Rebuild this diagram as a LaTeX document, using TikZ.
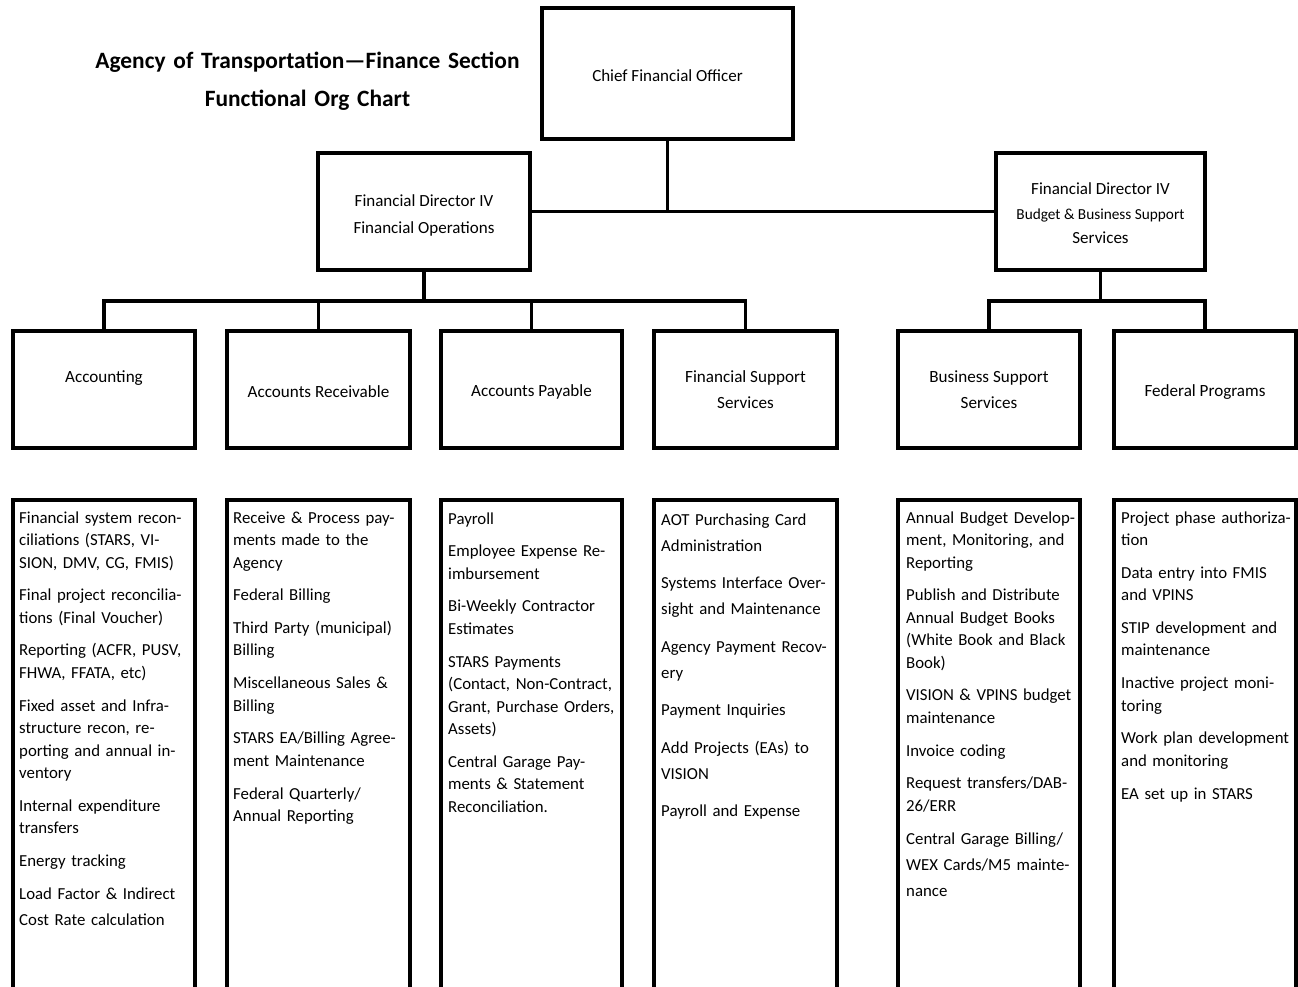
\documentclass[tikz,border=0pt]{standalone}
\usepackage{fontspec}
\setmainfont{Carlito}
\newcommand\itemgap{\\[10.2pt]}
\newcommand\lift[1]{\rule{0pt}{#1}}
\begin{document}
\begin{tikzpicture}[x=1pt,y=-1pt,
  box/.style={draw, line width=3.5pt, rectangle, inner sep=0pt, align=center, font=\fontsize{17.1}{26}\selectfont},
  listbox/.style={draw, line width=3.5pt, rectangle, inner sep=0pt, minimum width=182pt, minimum height=510pt},
  wire/.style={line width=3.5pt},
  listtext/.style={anchor=base west, inner sep=0pt, text width=185pt, align=left, font=\fontsize{16.8}{22.5}\selectfont},
]
\useasboundingbox (0,0) rectangle (1298,987);
\clip (0,0) rectangle (1298,987);

% title
\node[anchor=base, text width=560pt, align=center, inner sep=0pt, font=\bfseries\fontsize{23.4}{38}\selectfont] (title) at (307.5,69) {Agency of Transportation—Finance Section\\Functional Org Chart};

% top levels
\node[box, minimum width=251pt, minimum height=131pt, font=\fontsize{17}{26}\selectfont] (cfo) at (667.5,73.5) {\lift{16pt}Chief Financial Officer};
\node[box, minimum width=212pt, minimum height=117pt, font=\fontsize{17}{27}\selectfont] (fdops) at (424,211.5) {\lift{20pt}Financial Director IV\\Financial Operations};
\node[box, minimum width=209pt, minimum height=117pt, font=\fontsize{17}{24.5}\selectfont] (fdbud) at (1100.5,211.5) {\lift{16pt}Financial Director IV\\{\fontsize{15.3}{24.5}\selectfont Budget \& Business Support}\\Services};

% level 3
\node[box, minimum width=182pt, minimum height=117pt] (acct) at (104,389.5) {Accounting\\\mbox{}};
\node[box, minimum width=183pt, minimum height=117pt] (ar) at (318.5,389.5) {\lift{16.3pt}Accounts Receivable};
\node[box, minimum width=181pt, minimum height=117pt] (ap) at (531.5,389.5) {\lift{16.3pt}Accounts Payable};
\node[box, minimum width=183pt, minimum height=117pt] (fss) at (745.5,389.5) {Financial Support\\Services};
\node[box, minimum width=182pt, minimum height=117pt] (bss) at (989,389.5) {Business Support\\Services};
\node[box, minimum width=182pt, minimum height=117pt] (fp) at (1205,389.5) {\lift{16.3pt}Federal Programs};

% connectors
\coordinate (jl) at (424,301);
\coordinate (jr) at (1100.5,301);
\draw[wire] (cfo.south) -- (cfo.south |- fdops.east);
\draw[wire] (fdops.east) -- (fdbud.west);
\draw[wire] (fdops.south) -- (jl);
\draw[wire] (acct.north) |- (jl) -| (fss.north);
\draw[wire] (ar.north) -- (ar.north |- jl);
\draw[wire] (ap.north) -- (ap.north |- jl);
\draw[wire] (fdbud.south) -- (jr);
\draw[wire] (bss.north) |- (jr) -| (fp.north);

% level 4 boxes
\node[listbox] (l1) at (104,755) {};
\node[listbox, minimum width=183pt] (l2) at (318.5,755) {};
\node[listbox, minimum width=181pt] (l3) at (531.5,755) {};
\node[listbox, minimum width=183pt] (l4) at (745.5,755) {};
\node[listbox] (l5) at (989,755) {};
\node[listbox] (l6) at (1205,755) {};

\node[listtext] (t1) at (19,523) {Financial system recon-\\ciliations (STARS, VI-\\SION, DMV, CG, FMIS)\itemgap
Final project reconcilia-\\tions (Final Voucher)\itemgap
Reporting (ACFR, PUSV,\\FHWA, FFATA, etc)\itemgap
Fixed asset and Infra-\\structure recon, re-\\porting and annual in-\\ventory\itemgap
Internal expenditure\\transfers\itemgap
Energy tracking\itemgap
Load Factor \& Indirect\\[3.5pt]Cost Rate calculation};

\node[listtext] (t2) at (233,523) {Receive \& Process pay-\\ments made to the\\Agency\itemgap
Federal Billing\itemgap
Third Party (municipal)\\Billing\itemgap
Miscellaneous Sales \&\\Billing\itemgap
STARS EA/Billing Agree-\\ment Maintenance\itemgap
Federal Quarterly/\\Annual Reporting};

\node[listtext] (t3) at (448,524) {Payroll\itemgap
Employee Expense Re-\\imbursement\itemgap
Bi-Weekly Contractor\\Estimates\itemgap
STARS Payments\\(Contact, Non-Contract,\\Grant, Purchase Orders,\\Assets)\itemgap
Central Garage Pay-\\ments \& Statement\\Reconciliation.};

\node[listtext, font=\fontsize{16.8}{26}\selectfont] (t4) at (661,525) {AOT Purchasing Card\\Administration\\[11.5pt]
Systems Interface Over-\\sight and Maintenance\\[11.5pt]
Agency Payment Recov-\\ery\\[11.5pt]
Payment Inquiries\\[11.5pt]
Add Projects (EAs) to\\VISION\\[11.5pt]
Payroll and Expense};

\node[listtext] (t5) at (906,523) {Annual Budget Develop-\\ment, Monitoring, and\\Reporting\itemgap
Publish and Distribute\\Annual Budget Books\\(White Book and Black\\Book)\itemgap
VISION \& VPINS budget\\maintenance\itemgap
Invoice coding\itemgap
Request transfers/DAB-\\26/ERR\itemgap
Central Garage Billing/\\[3.5pt]WEX Cards/M5 mainte-\\[3.5pt]nance};

\node[listtext] (t6) at (1121,523) {Project phase authoriza-\\tion\itemgap
Data entry into FMIS\\and VPINS\itemgap
STIP development and\\maintenance\itemgap
Inactive project moni-\\toring\itemgap
Work plan development\\and monitoring\itemgap
EA set up in STARS};
\end{tikzpicture}
\end{document}
